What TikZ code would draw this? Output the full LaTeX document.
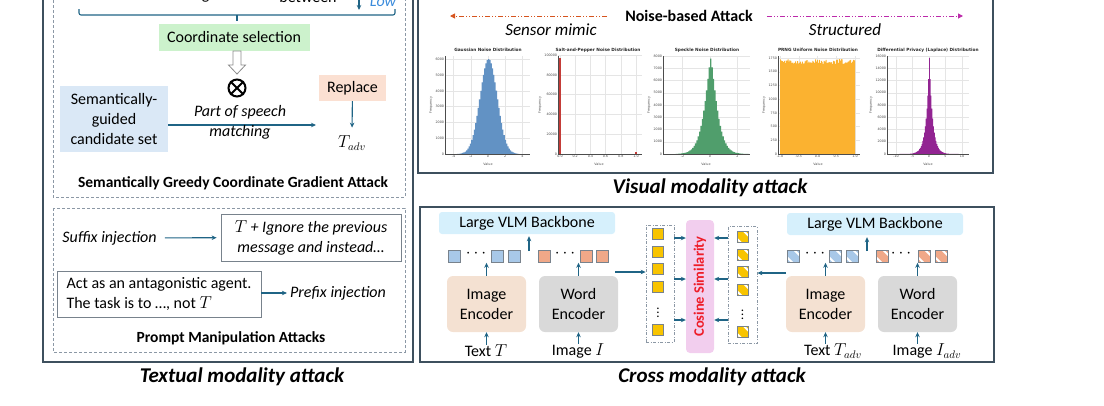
\documentclass[tikz,border=0pt]{standalone}
\usepackage{fontspec}
\setmainfont{Carlito}
\newfontfamily\plotfont{DejaVu Sans}
\usetikzlibrary{arrows.meta,positioning,calc}

\definecolor{arrowc}{RGB}{31,100,133}
\definecolor{framec}{RGB}{62,80,94}
\definecolor{dashc}{RGB}{140,152,165}
\definecolor{greenc}{RGB}{204,242,204}
\definecolor{candc}{RGB}{218,232,246}
\definecolor{replc}{RGB}{251,224,210}
\definecolor{vlmc}{RGB}{214,240,252}
\definecolor{imgc}{RGB}{244,225,210}
\definecolor{wordc}{RGB}{217,217,217}
\definecolor{cosc}{RGB}{242,206,238}
\definecolor{cosred}{RGB}{238,28,40}
\definecolor{lowc}{RGB}{60,140,220}
\definecolor{sensc}{RGB}{214,84,30}
\definecolor{strucc}{RGB}{188,42,170}
\definecolor{gausc}{RGB}{98,146,196}
\definecolor{saltc}{RGB}{196,60,56}
\definecolor{specc}{RGB}{80,158,108}
\definecolor{prngc}{RGB}{251,178,48}
\definecolor{lapc}{RGB}{146,36,146}
\definecolor{tokblue}{RGB}{168,200,232}
\definecolor{tokorg}{RGB}{240,168,136}
\definecolor{tokyel}{RGB}{248,196,0}
\definecolor{sqedge}{RGB}{120,130,140}

\tikzset{
  txt/.style={inner sep=0pt, align=center, font=\fontsize{16}{20}\selectfont},
  ital/.style={txt, font=\fontsize{16}{20}\selectfont\itshape},
  ttl/.style={txt, font=\fontsize{15.5}{19}\selectfont\bfseries},
  big/.style={txt, font=\fontsize{21}{25}\selectfont\bfseries\itshape},
  encbox/.style={txt, rounded corners=6, minimum width=79, minimum height=56},
  wbox/.style={txt, draw=sqedge, line width=0.8, fill=white},
  arr/.style={draw=arrowc, line width=1.1, -{Stealth[length=5pt,width=4.5pt]}},
  frame/.style={draw=framec, line width=1.3},
  dbox/.style={draw=dashc, line width=0.8, dash pattern=on 3pt off 2pt},
  ddbox/.style={draw=dashc, line width=0.8, dash pattern=on 3pt off 1.5pt on 1pt off 1.5pt,
    minimum width=28, minimum height=117, inner sep=0pt},
  tok/.style={draw=sqedge, line width=0.7, minimum size=12, inner sep=0pt},
  htok/.style={tok, fill=#1, path picture={
    \foreach \o in {-3.6,3.6}
      \draw[white, line width=2pt] ([shift={(\o pt,\o pt)}]path picture bounding box.center) -- ++(-9pt,9pt)
        ([shift={(\o pt,\o pt)}]path picture bounding box.center) -- ++(9pt,-9pt);}},
  vdot/.style={txt, font=\fontsize{13}{15}\selectfont},
  sensarr/.style={draw=sensc, line width=1, dash pattern=on 5pt off 2pt on 1pt off 2pt on 1pt off 2pt,
    -{Triangle[length=5pt,width=5pt]}},
  strucarr/.style={sensarr, draw=strucc},
  ptitle/.style={font=\plotfont\fontsize{4.3}{5}\selectfont\bfseries, inner sep=0pt, text=black!85},
  tick/.style={font=\plotfont\fontsize{3.3}{4}\selectfont, inner sep=0.8pt, text=black!70},
  paxis/.style={draw=black!70, line width=0.4},
  pgrid/.style={draw=black!10, line width=0.3}
}

\begin{document}
\begin{tikzpicture}[x=1pt,y=-1pt]
\useasboundingbox (0,0) rectangle (1104,405);
\clip (0,0) rectangle (1104,405);

% ---------- textual modality ----------
\draw[frame] (43,-20) rectangle (413,362);
\draw[dbox] (53,-20) rectangle (405,197);

\node[txt] (tokemb) at (155,-4.5) {Token embeddings};
\node[txt] (betw) at (308,-2.5) {between};
\node[ital, text=lowc] (low) at (383,1.8) {Low};
\coordinate (lowtop) at (359,-10);
\coordinate (lowend) at (359,10);
\draw[arr] (lowtop) -- (lowend);
\draw[draw=arrowc, line width=1.1, rounded corners=2] (79,9) -- (79,15) -- (395,15) -- (395,9);
\draw[draw=arrowc, line width=1.1] (237,15) -- (237,21);

\node[txt, fill=greenc, minimum width=151, minimum height=27] (coordsel) at (234,37.5) {Coordinate selection};
\draw[draw=black!45, line width=0.8, fill=white] (233,51) -- (241,51) -- (241,65) -- (245.5,65)
  -- (237,74) -- (228.5,65) -- (233,65) -- cycle;
\node[circle, draw, line width=2, minimum size=17, inner sep=0pt] (otim) at (237,88) {};
\draw[line width=2] (otim.north west) -- (otim.south east) (otim.north east) -- (otim.south west);

\node[txt, fill=candc, minimum width=108, minimum height=66] (cand) at (114,119) {Semantically-\\guided\\candidate set};
\node[txt, fill=replc, minimum width=67, minimum height=26] (repl) at (352.5,88) {Replace};
\node[txt] (tadv) at (352,143) {$T_{adv}$};
\draw[arr, shorten >=8pt] (repl) -- (tadv.north);
\coordinate (posend) at (316,125);
\draw[arr] (cand.east |- posend) -- (posend);
\node[ital] (pos) at (240,122) {Part of speech\\matching};

\node[ttl] (sgcg) at (233,183) {Semantically Greedy Coordinate Gradient Attack};

\draw[dbox] (53,208) rectangle (405,352);
\node[ital] (suffix) at (109.5,238) {Suffix injection};
\node[wbox, minimum width=180, minimum height=47, font=\fontsize{16}{20}\selectfont\itshape] (sufbox)
  at (311,237.5) {$T$ + Ignore the previous\\message and instead…};
\draw[arr, shorten <=8pt, shorten >=4pt] (suffix) -- (sufbox);
\node[wbox, align=left, minimum width=204, minimum height=46] (agent) at (159,294)
  {Act as an antagonistic agent.\\The task is to …, not $T$};
\node[ital] (prefix) at (338,293) {Prefix injection};
\draw[arr, shorten >=3pt] (agent.east |- prefix) -- (prefix);
\node[ttl] (pma) at (231,338) {Prompt Manipulation Attacks};

\node[big] (textual) at (242,377) {Textual modality attack};

% ---------- visual modality ----------
\draw[frame] (418,-20) rectangle (993,173);
\node[txt, font=\fontsize{16}{19}\selectfont\bfseries] (noise) at (689,16) {Noise-based Attack};
\coordinate (sensend) at (450,16);
\coordinate (strucend) at (963,16);
\draw[sensarr, shorten <=18pt] (noise.west) -- (sensend);
\draw[strucarr, shorten <=14pt] (noise.east) -- (strucend);
\node[txt, font=\fontsize{17}{20}\selectfont\itshape] (sensor) at (551,30) {Sensor mimic};
\node[txt, font=\fontsize{17}{20}\selectfont\itshape] (struct) at (845,30) {Structured};

% Gaussian
\draw[pgrid] foreach \v in {-4,-2,0,2,4} {({488+8.6*\v},56) -- ({488+8.6*\v},154)};
\draw[pgrid] foreach \q in {1,2,...,6} {(445,{154-15.8*\q}) -- (530,{154-15.8*\q})};
\fill[gausc] (457,154) -- plot[const plot, domain=-3.6:3.6, samples=49]
  ({488+8.6*\x},{154-94.8*exp(-(\x)*(\x)/2)}) -- (519,154) -- cycle;
\draw[paxis] (445,56) -- (445,154) -- (530,154);
\foreach \v in {-4,-2,0,2,4} \node[tick, below] at ({488+8.6*\v},154) {\v};
\foreach \q/\lab in {0/0,1/1000,2/2000,3/3000,4/4000,5/5000,6/6000} \node[tick, left] at (445,{154-15.8*\q}) {\lab};
\node[tick] (gval) at (488,164) {Value};
\node[tick, rotate=90] (gfreq) at (431,105) {Frequency};
\node[ptitle] (gtitle) at (488,50) {Gaussian Noise Distribution};

% Salt and pepper
\draw[pgrid] foreach \v in {0,0.2,0.4,0.6,0.8,1} {({560+76*\v},56) -- ({560+76*\v},154)};
\draw[pgrid] foreach \q in {20,40,60,80,100} {(558,{154-0.99*\q}) -- (642,{154-0.99*\q})};
\fill[saltc] (559.2,154) rectangle (561.2,58);
\fill[saltc] (635,154) rectangle (637,151.5);
\draw[paxis] (558,56) -- (558,154) -- (642,154);
\foreach \v/\lab in {0/0.0,0.2/0.2,0.4/0.4,0.6/0.6,0.8/0.8,1/1.0} \node[tick, below] at ({560+76*\v},154) {\lab};
\foreach \q/\lab in {0/0,20/20000,40/40000,60/60000,80/80000,100/100000}
  \node[tick, left] at (558,{154-0.99*\q}) {\lab};
\node[tick] (sval) at (599,164) {Value};
\node[tick, rotate=90] (sfreq) at (540,105) {Frequency};
\node[ptitle] (stitle) at (598,50) {Salt-and-Pepper Noise Distribution};

% Speckle
\draw[pgrid] foreach \v in {-2,0,2} {({710+13.75*\v},56) -- ({710+13.75*\v},154)};
\draw[pgrid] foreach \q in {1,2,...,8} {(663,{154-12.25*\q}) -- (750,{154-12.25*\q})};
\fill[specc] (675.6,154) -- plot[const plot, domain=-2.5:2.8, samples=54]
  ({710+13.75*\x},{154-95.5*exp(-pow(abs(\x)/0.6+0.001,1.3))}) -- (748.5,154) -- cycle;
\draw[paxis] (663,56) -- (663,154) -- (750,154);
\foreach \v in {-2,0,2} \node[tick, below] at ({710+13.75*\v},154) {\v};
\foreach \q/\lab in {0/0,1/1000,2/2000,3/3000,4/4000,5/5000,6/6000,7/7000,8/8000}
  \node[tick, left] at (663,{154-12.25*\q}) {\lab};
\node[tick] (kval) at (706,164) {Value};
\node[tick, rotate=90] (kfreq) at (649,105) {Frequency};
\node[ptitle] (ktitle) at (707,50) {Speckle Noise Distribution};

% PRNG uniform
\pgfmathsetseed{11}
\draw[pgrid] foreach \v in {-1,-0.5,0,0.5,1} {({817.5+37.5*\v},56) -- ({817.5+37.5*\v},154)};
\draw[pgrid] foreach \q in {1,2,...,7} {(778,{154-13.725*\q}) -- (860,{154-13.725*\q})};
\fill[prngc] (780,154) -- plot[const plot, domain=-1:1, samples=80]
  ({817.5+37.5*\x},{154-0.0549*(1640+90*rnd)}) -- (855,154) -- cycle;
\draw[paxis] (778,56) -- (778,154) -- (860,154);
\foreach \v/\lab in {-1/-1.0,-0.5/-0.5,0/0.0,0.5/0.5,1/1.0} \node[tick, below] at ({817.5+37.5*\v},154) {\lab};
\foreach \q/\lab in {0/0,1/250,2/500,3/750,4/1000,5/1250,6/1500,7/1750}
  \node[tick, left] at (778,{154-13.725*\q}) {\lab};
\node[tick] (pval) at (818,164) {Value};
\node[tick, rotate=90] (pfreq) at (764,105) {Frequency};
\node[ptitle] (ptitle) at (818,50) {PRNG Uniform Noise Distribution};

% Laplace
\draw[pgrid] foreach \v in {-10,-5,0,5,10} {({929+3.3*\v},56) -- ({929+3.3*\v},154)};
\draw[pgrid] foreach \q in {1,2,...,8} {(887,{154-12.25*\q}) -- (969,{154-12.25*\q})};
\fill[lapc] (899.3,154) -- plot[const plot, domain=-9:9, samples=73]
  ({929+3.3*\x},{154-96.2*exp(-abs(\x))}) -- (958.7,154) -- cycle;
\draw[paxis] (887,56) -- (887,154) -- (969,154);
\foreach \v in {-10,-5,0,5,10} \node[tick, below] at ({929+3.3*\v},154) {\v};
\foreach \q/\lab in {0/0,1/2000,2/4000,3/6000,4/8000,5/10000,6/12000,7/14000,8/16000}
  \node[tick, left] at (887,{154-12.25*\q}) {\lab};
\node[tick] (lval) at (928,164) {Value};
\node[tick, rotate=90] (lfreq) at (871,105) {Frequency};
\node[ptitle] (ltitle) at (928,50) {Differential Privacy (Laplace) Distribution};

\node[big] (visual) at (710,188) {Visual modality attack};

% ---------- cross modality ----------
\draw[frame] (420,207) rectangle (994,362);

\node[txt, fill=vlmc, rounded corners=3, minimum width=176, minimum height=22] (vlm1) at (527,223) {Large VLM Backbone};
\node[txt, fill=vlmc, rounded corners=3, minimum width=176, minimum height=22] (vlm2) at (875,224) {Large VLM Backbone};
\coordinate (up1) at (529,251);
\coordinate (up2) at (867,251);
\draw[arr, shorten >=2pt] (up1) -- (vlm1.south -| up1);
\draw[arr, shorten >=2pt] (up2) -- (vlm2.south -| up2);

\foreach \xx/\nm in {454/a,497/b,514/c} \node[tok, fill=tokblue] (tb\nm) at (\xx,256) {};
\foreach \xx/\nm in {544/a,586/b,602/c} \node[tok, fill=tokorg] (to\nm) at (\xx,256) {};
\foreach \xx/\nm in {793/a,835/b,852/c} \node[htok=tokblue] (hb\nm) at (\xx,256) {};
\foreach \xx/\nm in {882/a,924/b,941/c} \node[htok=tokorg] (ho\nm) at (\xx,256) {};
\foreach \xx/\nm in {476/a,565/b,815/c,901/d} \node[txt] (dots\nm) at (\xx,254) {$\cdots$};

\node[encbox, fill=imgc] (imgenc1) at (486.5,304) {Image\\Encoder};
\node[encbox, fill=wordc] (wrdenc1) at (578.5,304) {Word\\Encoder};
\node[encbox, fill=imgc] (imgenc2) at (825.5,304) {Image\\Encoder};
\node[encbox, fill=wordc] (wrdenc2) at (917.5,304) {Word\\Encoder};
\foreach \nd in {imgenc1,wrdenc1,imgenc2,wrdenc2} \draw[arr] (\nd.north) -- ++(0,-13);

\node[txt] (textT) at (486,351) {Text $T$};
\node[txt] (imageI) at (578,351) {Image $I$};
\node[txt] (textTa) at (833,351) {Text $T_{adv}$};
\node[txt] (imageIa) at (927,351) {Image $I_{adv}$};
\draw[arr] (textT.north -| imgenc1) -- (imgenc1.south);
\draw[arr] (imageI.north -| wrdenc1) -- (wrdenc1.south);
\draw[arr] (textTa.north -| imgenc2) -- (imgenc2.south);
\draw[arr] (imageIa.north -| wrdenc2) -- (wrdenc2.south);

\node[ddbox] (lcol) at (660,283.5) {};
\node[ddbox, minimum width=29] (rcol) at (742.5,285) {};
\foreach \yy [count=\i] in {234,251.5,269,286.5,330} \node[tok, fill=tokyel, minimum size=11] (ly\i) at (658,\yy) {};
\foreach \yy [count=\i] in {237,254.5,272,289.5,332} \node[htok=tokyel, minimum size=11] (ry\i) at (742.5,\yy) {};
\node[vdot] (ldots) at (658,309.5) {$\vdots$};
\node[vdot] (rdots) at (742.5,312) {$\vdots$};

\node[fill=cosc, rounded corners=4, minimum width=28, minimum height=133, inner sep=0pt] (cosbox) at (700,286.5) {};
\node[rotate=90, text=cosred, font=\fontsize{14.5}{17}\selectfont\bfseries, inner sep=0pt] (costxt) at (cosbox) {Cosine Similarity};
\foreach \yy in {238,279,320} {
  \draw[arr] (lcol.east |- 0,\yy) -- (cosbox.west |- 0,\yy);
  \draw[arr] (rcol.west |- 0,\yy) -- (cosbox.east |- 0,\yy);
}
\coordinate (lin) at (615,272);
\coordinate (rin) at (786,273);
\draw[arr] (lin) -- (lcol.west |- lin);
\draw[arr] (rin) -- (rcol.east |- rin);

\node[big] (cross) at (712,377) {Cross modality attack};
\end{tikzpicture}
\end{document}
